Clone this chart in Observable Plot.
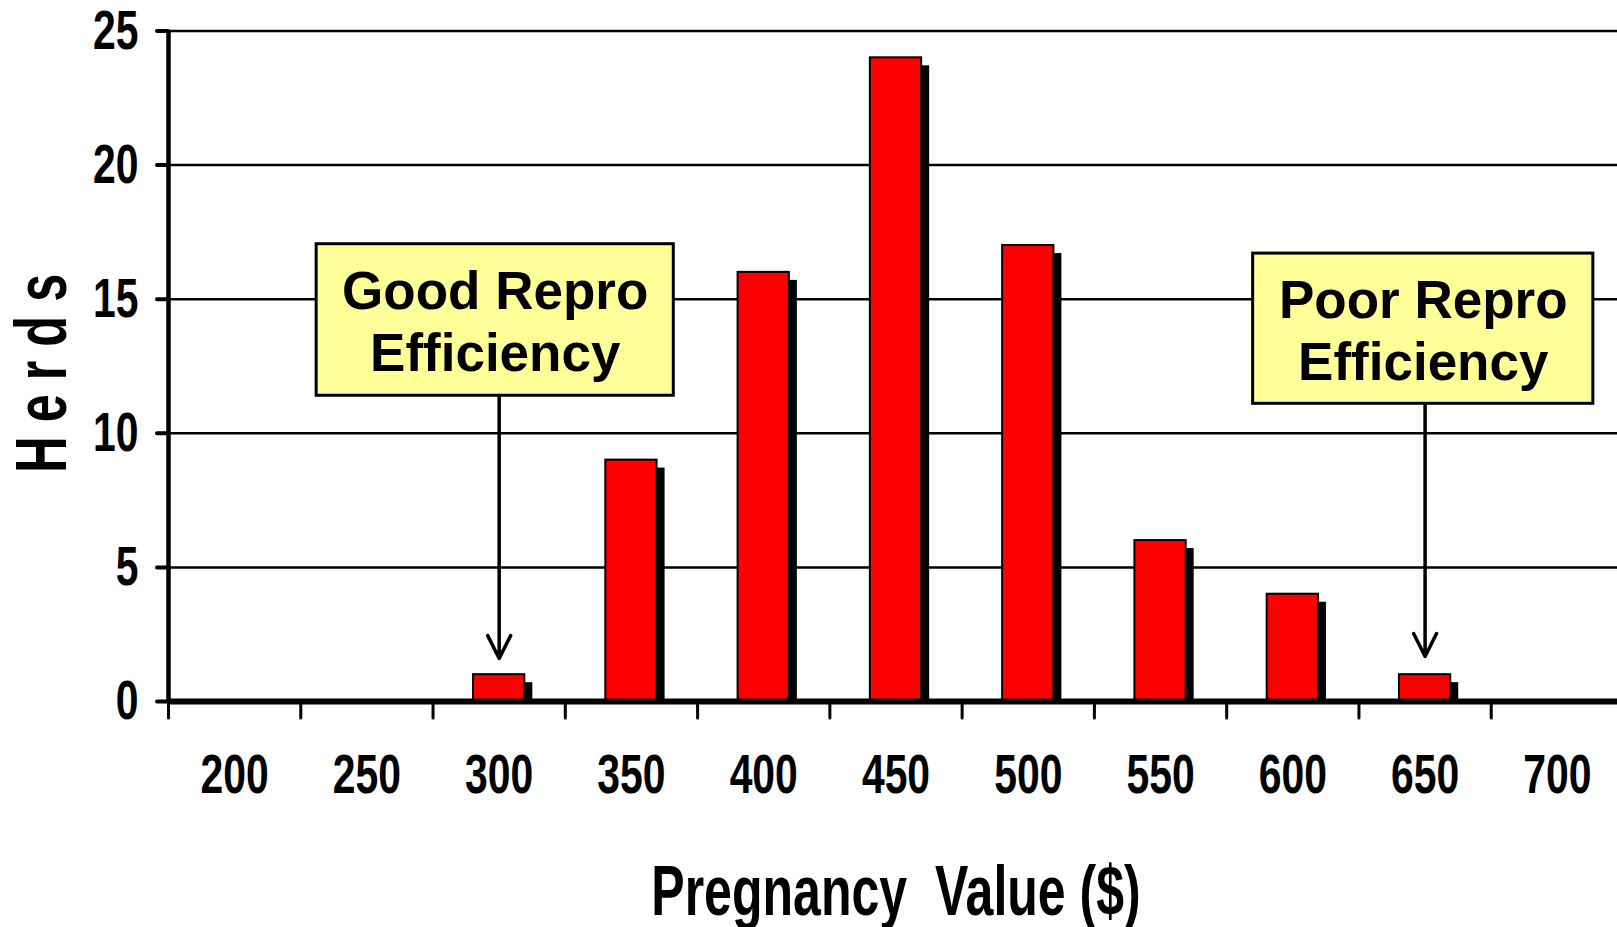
<!DOCTYPE html>
<html><head><meta charset="utf-8">
<script src="https://cdn.jsdelivr.net/npm/d3@7"></script>
<script src="https://cdn.jsdelivr.net/npm/@observablehq/plot@0.6"></script>
<style>
html,body{margin:0;padding:0;background:#fff;overflow:hidden;}
#chart svg{display:block;}
</style></head><body><div id="chart"></div>
<script>
// ---- data ----
const pregnancyValues = [200, 250, 300, 350, 400, 450, 500, 550, 600, 650, 700];
const herdCounts      = [0,   0,   1,   9,   16,  24,  17,  6,   4,   1,   0];
const yTicks = [0, 5, 10, 15, 20, 25];
const binBoundaries = [175, 225, 275, 325, 375, 425, 475, 525, 575, 625, 675, 725];
const binWidth = 50;

const annotationLabels  = ["Good Repro\nEfficiency", "Poor Repro\nEfficiency"];
const annotationTargets = [300, 650];
const boxLeft   = [231, 585];
const boxRight  = [366, 713.6];
const boxTop    = [17.05, 16.7];
const boxBottom = [11.4, 11.1];
const arrowTip  = [1.6, 1.68];

const xTitle = "Pregnancy\u00a0 Value ($)";
const yTitle = "Herds";

const bins = pregnancyValues.map((v, i) => ({value: v, herds: herdCounts[i]}));
const notes = annotationLabels.map((t, i) => ({
  text: t, target: annotationTargets[i],
  x1: boxLeft[i], x2: boxRight[i], y1: boxBottom[i], y2: boxTop[i], tip: arrowTip[i]
}));

const font = '"Liberation Sans", Arial, Helvetica, sans-serif';

const chart = Plot.plot({
  width: 1617, height: 927,
  marginLeft: 168, marginRight: -6, marginTop: 30.5, marginBottom: 226,
  style: {fontFamily: font, fontWeight: "bold", color: "#000", background: "#fff", overflow: "visible"},
  x: {domain: [175, 725]},
  y: {domain: [0, 25]},
  marks: [
    Plot.gridY({ticks: yTicks.filter(d => d > 0), stroke: "#000", strokeOpacity: 1, strokeWidth: 2.5}),
    Plot.axisY({ticks: yTicks, tickSize: 11, tickPadding: 19, fontSize: 56, strokeWidth: 4, strokeLinecap: "round", label: null}),
    Plot.axisX({ticks: binBoundaries, tickSize: 17, tickFormat: () => "", strokeWidth: 3, strokeLinecap: "round", label: null}),
    Plot.axisX({ticks: pregnancyValues, tickSize: 0, tickPadding: 52, fontSize: 56, label: null}),
    // shadow
    Plot.rectY(bins, {filter: d => d.herds > 0, x1: d => d.value - binWidth / 2, x2: d => d.value + binWidth / 2, y: "herds",
      fill: "#000", insetLeft: 40.5, insetRight: 40.5, insetTop: 8, dx: 8}),
    // bars
    Plot.rectY(bins, {filter: d => d.herds > 0, x1: d => d.value - binWidth / 2, x2: d => d.value + binWidth / 2, y: "herds",
      fill: "#ff0000", stroke: "#000", strokeWidth: 2, insetLeft: 40.5, insetRight: 40.5}),
    Plot.ruleY([0], {stroke: "#000", strokeWidth: 6}),
    Plot.ruleX([175], {y1: 0, y2: 25, stroke: "#000", strokeWidth: 4.5}),
    // annotations
    Plot.arrow(notes, {x1: "target", x2: "target", y1: "y1", y2: "tip", stroke: "#000", strokeWidth: 3.5, headLength: 11, headAngle: 53}),
    Plot.rect(notes, {x1: "x1", x2: "x2", y1: "y1", y2: "y2", fill: "#ffff99", stroke: "#000", strokeWidth: 3}),
    Plot.text(notes, {x: d => (d.x1 + d.x2) / 2, y: d => (d.y1 + d.y2) / 2, text: "text", fontSize: 53, lineHeight: 1.17, fill: "#000"}),
    // titles
    Plot.text([xTitle], {text: d => d, frameAnchor: "bottom", textAnchor: "middle", dx: 0, dy: 213, fontSize: 71}),
    Plot.text([yTitle], {text: d => d, frameAnchor: "left", textAnchor: "middle", lineAnchor: "middle", rotate: -90, dx: -125.4, dy: 0, fontSize: 72})
  ]
});

function squeezeEl(t, sx) {
  const tr = t.getAttribute("transform");
  if (tr) t.setAttribute("transform", tr + ` scale(${sx},1)`);
  else {
    const x = +t.getAttribute("x") || 0, y = +t.getAttribute("y") || 0;
    t.setAttribute("transform", `translate(${x},${y}) scale(${sx},1) translate(${-x},${-y})`);
  }
}
const tickLabelSet = new Set([...yTicks, ...pregnancyValues].map(String));
chart.querySelectorAll("text").forEach(t => {
  const s = t.textContent;
  if (tickLabelSet.has(s)) squeezeEl(t, 0.73);
  else if (s === xTitle) squeezeEl(t, 0.705);
  else if (s === yTitle) { squeezeEl(t, 0.7); t.setAttribute("letter-spacing", "20"); }
});

document.getElementById("chart").appendChild(chart);
</script>
</body></html>
